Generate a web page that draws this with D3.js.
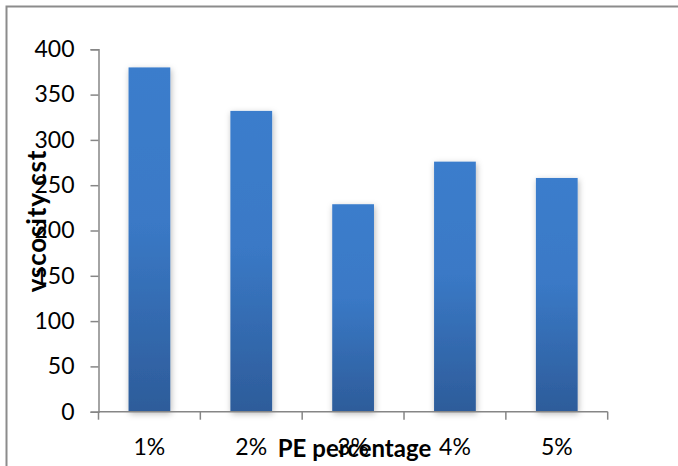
<!DOCTYPE html>
<html>
<head>
<meta charset="utf-8">
<script src="https://cdn.jsdelivr.net/npm/d3@7"></script>
<style>
  html, body { margin: 0; padding: 0; background: #fff; }
  svg { display: block; }
  text { font-family: Lato, "Open Sans", sans-serif; fill: #000; }
</style>
</head>
<body>
<svg id="chart" width="678" height="466"></svg>
<script>
// PE percentage vs. viscosity
const categories = ["1%", "2%", "3%", "4%", "5%"];
const viscosity = [380, 332, 229, 276, 258];
const yTicks = [0, 50, 100, 150, 200, 250, 300, 350, 400];
const xTitle = "PE percentage";
const yTitle = "vscosity cst";

const svg = d3.select("#chart");
const W = 678, H = 466;
const plot = { left: 98.5, right: 607.7, top: 49.3, bottom: 411.7 };

// chart area frame (runs past the right and bottom edges)
svg.append("rect")
  .attr("x", 6.5).attr("y", 6.5)
  .attr("width", W + 20).attr("height", H + 20)
  .attr("fill", "#fff")
  .attr("stroke", "#8c8c8c").attr("stroke-width", 2);

const defs = svg.append("defs");
const grad = defs.append("linearGradient")
  .attr("id", "barFill")
  .attr("x1", 0).attr("y1", 0).attr("x2", 0).attr("y2", 1);
grad.append("stop").attr("offset", "0%").attr("stop-color", "#3b7dcc");
grad.append("stop").attr("offset", "45%").attr("stop-color", "#3a79c6");
grad.append("stop").attr("offset", "100%").attr("stop-color", "#2d5c9a");

const shadow = defs.append("filter")
  .attr("id", "barShadow")
  .attr("x", "-30%").attr("y", "-10%").attr("width", "160%").attr("height", "120%");
shadow.append("feDropShadow")
  .attr("dx", 1).attr("dy", 2).attr("stdDeviation", 3)
  .attr("flood-color", "#000").attr("flood-opacity", 0.28);

const x = d3.scaleBand()
  .domain(categories)
  .range([plot.left, plot.right])
  .paddingInner(0.59)
  .paddingOuter(0.295);

const y = d3.scaleLinear()
  .domain([0, 400])
  .range([plot.bottom, plot.top]);

// bars
svg.append("g")
  .selectAll("rect")
  .data(categories.map((c, i) => ({ c, v: viscosity[i] })))
  .join("rect")
  .attr("x", d => x(d.c))
  .attr("y", d => y(d.v))
  .attr("width", x.bandwidth())
  .attr("height", d => y(0) - y(d.v))
  .attr("fill", "url(#barFill)")
  .attr("filter", "url(#barShadow)");

// y axis
const yAxis = svg.append("g")
  .attr("transform", `translate(${plot.left},0)`)
  .call(d3.axisLeft(y).tickValues(yTicks).tickSize(8).tickPadding(16).tickFormat(d3.format("d")));
yAxis.select(".domain").attr("stroke", "#868686").attr("stroke-width", 1.5);
yAxis.selectAll(".tick line").attr("stroke", "#868686").attr("stroke-width", 1.5);
yAxis.selectAll(".tick text")
  .style("font-family", "Lato, sans-serif")
  .style("font-size", "23px")
  .attr("fill", "#000");

// x axis: line with ticks at category boundaries
const gap = (x.step() - x.bandwidth()) / 2;
const bounds = categories.map(c => x(c) - gap).concat([x.range()[1]]);
const xAxis = svg.append("g");
xAxis.append("line")
  .attr("x1", plot.left).attr("x2", plot.right)
  .attr("y1", y(0)).attr("y2", y(0))
  .attr("stroke", "#868686").attr("stroke-width", 1.5);
xAxis.selectAll("line.tk")
  .data(bounds)
  .join("line")
  .attr("class", "tk")
  .attr("x1", d => d).attr("x2", d => d)
  .attr("y1", y(0)).attr("y2", y(0) + 8)
  .attr("stroke", "#868686").attr("stroke-width", 1.5);
xAxis.selectAll("text")
  .data(categories)
  .join("text")
  .attr("x", d => x(d) + x.bandwidth() / 2)
  .attr("y", 455)
  .attr("text-anchor", "middle")
  .style("font-size", "23px")
  .text(d => d);

// axis titles
svg.append("text")
  .attr("x", 354.5)
  .attr("y", 457)
  .attr("text-anchor", "middle")
  .style("font-size", "24px")
  .style("font-weight", "bold")
  .text(xTitle);

svg.append("text")
  .attr("transform", "translate(46,221) rotate(-90)")
  .attr("text-anchor", "middle")
  .style("font-size", "26px")
  .style("font-weight", "bold")
  .style("letter-spacing", "0.8px")
  .text(yTitle);
</script>
</body>
</html>
